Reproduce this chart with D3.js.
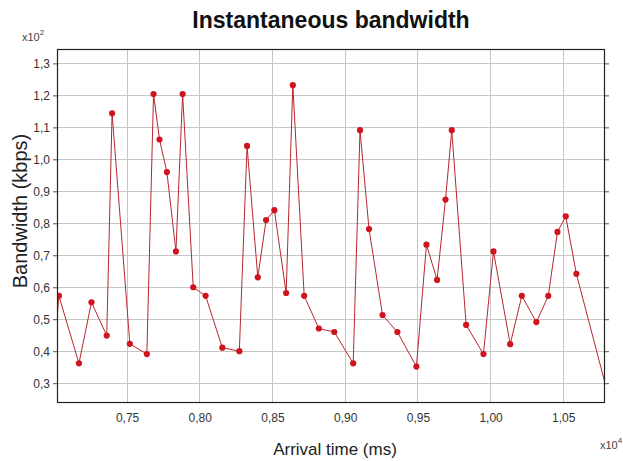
<!DOCTYPE html>
<html>
<head>
<meta charset="utf-8">
<script src="https://cdn.jsdelivr.net/npm/d3@7"></script>
<style>
  html, body { margin: 0; padding: 0; background: #fff; }
  svg { display: block; }
</style>
</head>
<body>
<svg id="chart" width="623" height="461"></svg>
<script>
// Arrival time, in units of 10^4 ms
const arrivalTime = [
  0.6990, 0.7031, 0.7169, 0.7255, 0.7360, 0.7397, 0.7519, 0.7636, 0.7682, 0.7723,
  0.7774, 0.7836, 0.7882, 0.7955, 0.8040, 0.8155, 0.8272, 0.8325, 0.8399, 0.8456,
  0.8513, 0.8594, 0.8640, 0.8718, 0.8819, 0.8925, 0.9055, 0.9102, 0.9164, 0.9257,
  0.9359, 0.9490, 0.9559, 0.9632, 0.9690, 0.9733, 0.9832, 0.9951, 1.0020, 1.0135,
  1.0215, 1.0315, 1.0397, 1.0460, 1.0517, 1.0590, 1.0815
];
// Bandwidth, in units of 10^2 kbps
const bandwidth = [
  0.359, 0.573, 0.362, 0.553, 0.449, 1.144, 0.423, 0.391, 1.204, 1.062,
  0.960, 0.712, 1.204, 0.600, 0.573, 0.411, 0.400, 1.042, 0.631, 0.810,
  0.841, 0.582, 1.232, 0.573, 0.471, 0.460, 0.362, 1.091, 0.782, 0.513,
  0.460, 0.352, 0.733, 0.623, 0.874, 1.091, 0.482, 0.391, 0.712, 0.422,
  0.573, 0.491, 0.573, 0.773, 0.822, 0.642, 0.252
];
const xTicks = [0.75, 0.80, 0.85, 0.90, 0.95, 1.00, 1.05];
const yTicks = [0.3, 0.4, 0.5, 0.6, 0.7, 0.8, 0.9, 1.0, 1.1, 1.2, 1.3];

const points = arrivalTime.map((t, i) => ({ t, v: bandwidth[i] }));

const svg = d3.select("#chart");
const pL = 57, pR = 605, pT = 49, pB = 403;
const W = pR - pL, H = pB - pT;
const fmt = d => d3.format(".2f")(d).replace(".", ",");
const fmtY = d => d3.format(".1f")(d).replace(".", ",");

const x = d3.scaleLinear().domain([0.7018, 1.0787]).range([pL, pR]);
const y = d3.scaleLinear().domain([0.238, 1.345]).range([pB, pT]);

// Title
svg.append("text")
  .attr("x", (pL + pR) / 2).attr("y", 28)
  .attr("text-anchor", "middle")
  .attr("font-family", "Liberation Sans, Arial, sans-serif")
  .attr("font-weight", "bold").attr("font-size", 23)
  .attr("fill", "#111")
  .text("Instantaneous bandwidth");

// Grid
const grid = svg.append("g");
grid.selectAll(".gx").data(xTicks).join("line")
  .attr("x1", d => x(d)).attr("x2", d => x(d))
  .attr("y1", pT).attr("y2", pB)
  .attr("stroke", "#c6c6c6").attr("stroke-width", 1)
  .attr("shape-rendering", "crispEdges");
grid.selectAll(".gy").data(yTicks).join("line")
  .attr("x1", pL).attr("x2", pR)
  .attr("y1", d => y(d)).attr("y2", d => y(d))
  .attr("stroke", "#c6c6c6").attr("stroke-width", 1)
  .attr("shape-rendering", "crispEdges");

// Axes
const tickFont = g => g.selectAll("text")
  .attr("font-family", "Liberation Sans Narrow, Liberation Sans, Arial, sans-serif")
  .attr("font-size", 12).attr("fill", "#333");

const xAxis = svg.append("g").attr("transform", `translate(0,${pB})`)
  .call(d3.axisBottom(x).tickValues(xTicks).tickFormat(fmt).tickSize(0).tickPadding(10));
xAxis.select(".domain").remove();
xAxis.call(tickFont);

const yAxis = svg.append("g").attr("transform", `translate(${pL},0)`)
  .call(d3.axisLeft(y).tickValues(yTicks).tickFormat(fmtY).tickSize(4).tickPadding(3));
yAxis.select(".domain").remove();
yAxis.selectAll("line").attr("stroke", "#555");
yAxis.call(tickFont);

const yAxisR = svg.append("g").attr("transform", `translate(${pR},0)`)
  .call(d3.axisRight(y).tickValues(yTicks).tickFormat("").tickSize(4));
yAxisR.select(".domain").remove();
yAxisR.selectAll("line").attr("stroke", "#555");

// Frame
svg.append("rect")
  .attr("x", pL + 0.5).attr("y", pT + 0.5)
  .attr("width", W - 1).attr("height", H - 1)
  .attr("fill", "none").attr("stroke", "#222").attr("stroke-width", 1.2);

// Clip for the series
svg.append("clipPath").attr("id", "plotClip")
  .append("rect").attr("x", pL + 1).attr("y", pT + 1).attr("width", W - 2).attr("height", H - 2);

const series = svg.append("g").attr("clip-path", "url(#plotClip)");
const line = d3.line().x(d => x(d.t)).y(d => y(d.v));
series.append("path").datum(points)
  .attr("d", line)
  .attr("fill", "none").attr("stroke", "#b8262e").attr("stroke-width", 1);

series.selectAll(".pt").data(points).join("circle")
  .attr("cx", d => x(d.t)).attr("cy", d => y(d.v))
  .attr("r", 3.1)
  .attr("fill", "#d0141e");

// Axis titles
svg.append("text")
  .attr("x", (pL + pR) / 2 + 4).attr("y", 455)
  .attr("text-anchor", "middle")
  .attr("font-family", "Liberation Sans, Arial, sans-serif")
  .attr("font-size", 17).attr("fill", "#222")
  .text("Arrival time (ms)");

svg.append("text")
  .attr("transform", `translate(27,211) rotate(-90)`)
  .attr("text-anchor", "middle")
  .attr("font-family", "Liberation Sans, Arial, sans-serif")
  .attr("font-size", 20).attr("fill", "#222")
  .text("Bandwidth (kbps)");

// Scale multipliers
function multiplier(xPos, yPos, exp) {
  const t = svg.append("text").attr("x", xPos).attr("y", yPos)
    .attr("font-family", "Liberation Sans Narrow, Liberation Sans, Arial, sans-serif")
    .attr("font-size", 11).attr("fill", "#444");
  t.append("tspan").text("x10");
  t.append("tspan").attr("dy", -6).attr("font-size", 8).text(exp);
}
multiplier(22, 41, "2");
multiplier(600, 449, "4");
</script>
</body>
</html>
